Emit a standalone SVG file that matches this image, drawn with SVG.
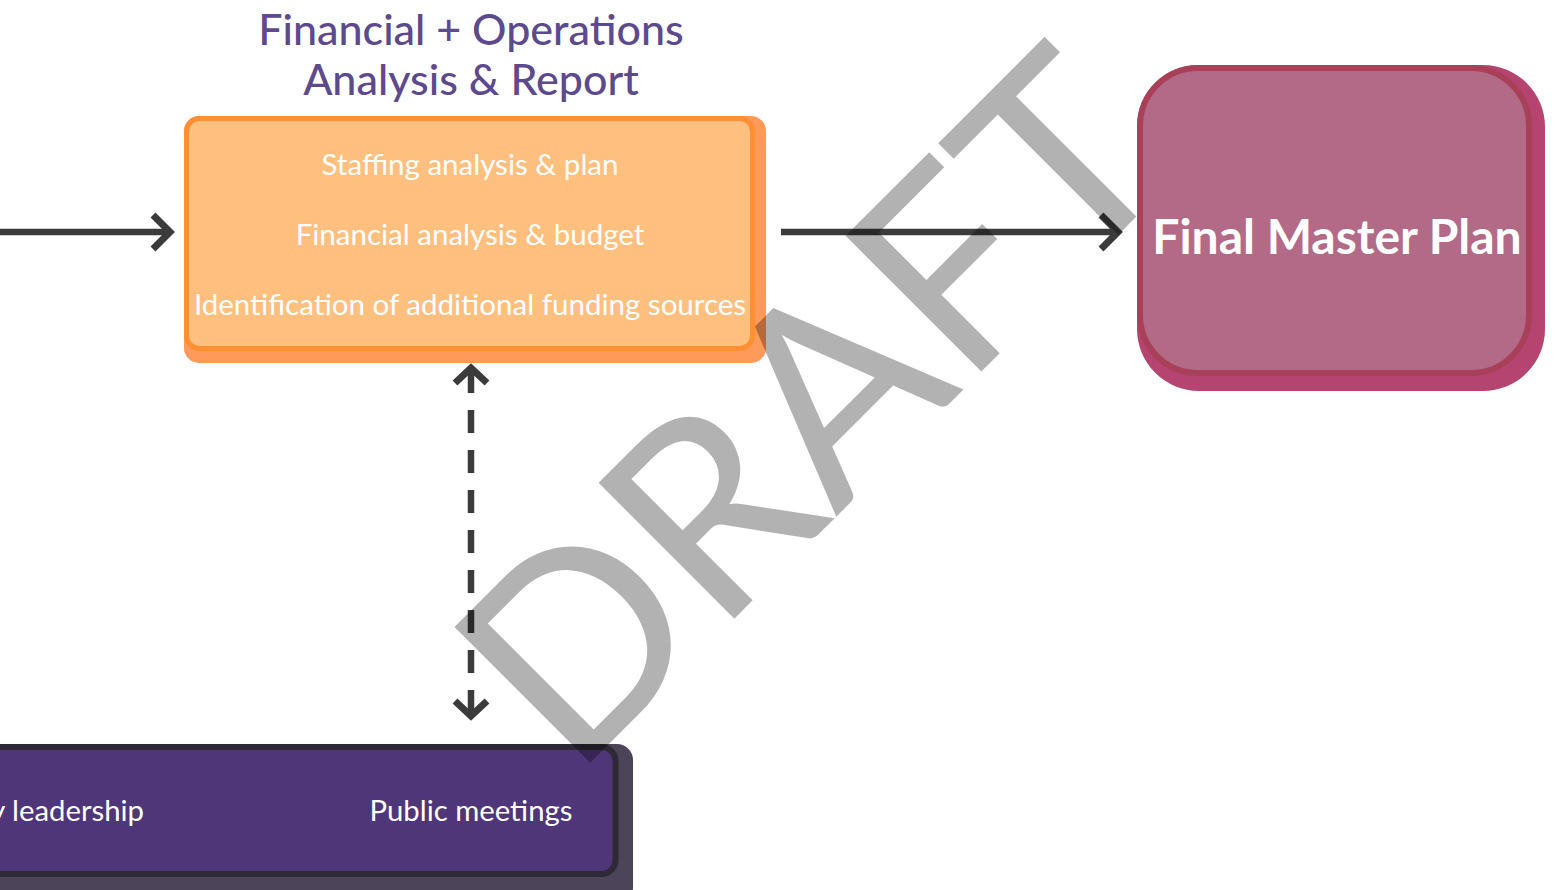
<svg xmlns="http://www.w3.org/2000/svg" width="1557" height="890" viewBox="0 0 1557 890">
<style>
.t{font-family:Lato,"Liberation Sans",sans-serif;fill:#ffffff;}
.title{font-family:Lato,"Liberation Sans",sans-serif;fill:#5c4a8c;font-size:43px;font-weight:500;text-anchor:middle;}
.item{font-size:29.5px;font-weight:400;text-anchor:middle;}
.ln{stroke:#3b3b3b;fill:none;stroke-width:6.5;}
.head{stroke:#3b3b3b;fill:none;stroke-width:7;stroke-linecap:butt;stroke-linejoin:miter;}
.wm{font-family:Lato,"Liberation Sans",sans-serif;font-size:268px;fill:#000000;fill-opacity:0.3;text-anchor:middle;}
</style>
<rect width="1557" height="890" fill="#ffffff"/>
<g id="connectors">
<line class="ln" x1="0" y1="232" x2="170" y2="232"/>
<polyline class="head" points="153,215 170,232 153,249"/>
<line class="ln" x1="781" y1="232" x2="1117" y2="232"/>
<polyline class="head" points="1101,215 1118,232 1101,249"/>
<line class="ln" x1="471" y1="370" x2="471" y2="714" stroke-width="7" stroke-dasharray="23 17"/>
<polyline class="head" stroke-width="8" points="455,383 471,368 487,383"/>
<polyline class="head" stroke-width="8" points="455,701 471,716 487,701"/>
</g>
<g id="node-financial">
<text class="title" x="471" y="45">Financial + Operations</text>
<text class="title" x="471" y="95">Analysis &amp; Report</text>
<rect x="184" y="116" width="582" height="247" rx="15" fill="#ff9a5b"/>
<rect x="186.5" y="118.5" width="566" height="230" rx="13" fill="#ffbf7f" stroke="#ff8f33" stroke-width="5"/>
<text class="t item" x="470" y="175">Staffing analysis &amp; plan</text>
<text class="t item" x="470" y="245">Financial analysis &amp; budget</text>
<text class="t item" x="470" y="315">Identification of additional funding sources</text>
</g>
<g id="node-final">
<rect x="1137" y="65" width="408" height="326" rx="62" fill="#b54470"/>
<rect x="1140" y="68" width="389" height="305" rx="58" fill="#b26a87" stroke="#a94059" stroke-width="6"/>
<text class="t" x="1337" y="254" font-size="48" font-weight="700" text-anchor="middle">Final Master Plan</text>
</g>
<g id="node-engagement">
<rect x="-30" y="744" width="663" height="160" rx="16" fill="#4c4459"/>
<rect x="-30" y="747" width="645.5" height="127" rx="14" fill="#4f3679" stroke="#2e2936" stroke-width="6"/>
<text class="t" x="144" y="821" font-size="29.3" text-anchor="end">y leadership</text>
<text class="t" x="471" y="821" font-size="29.3" text-anchor="middle">Public meetings</text>
</g>
<text class="wm" x="878" y="475" transform="rotate(-45 878 475)">DRAFT</text>
</svg>
